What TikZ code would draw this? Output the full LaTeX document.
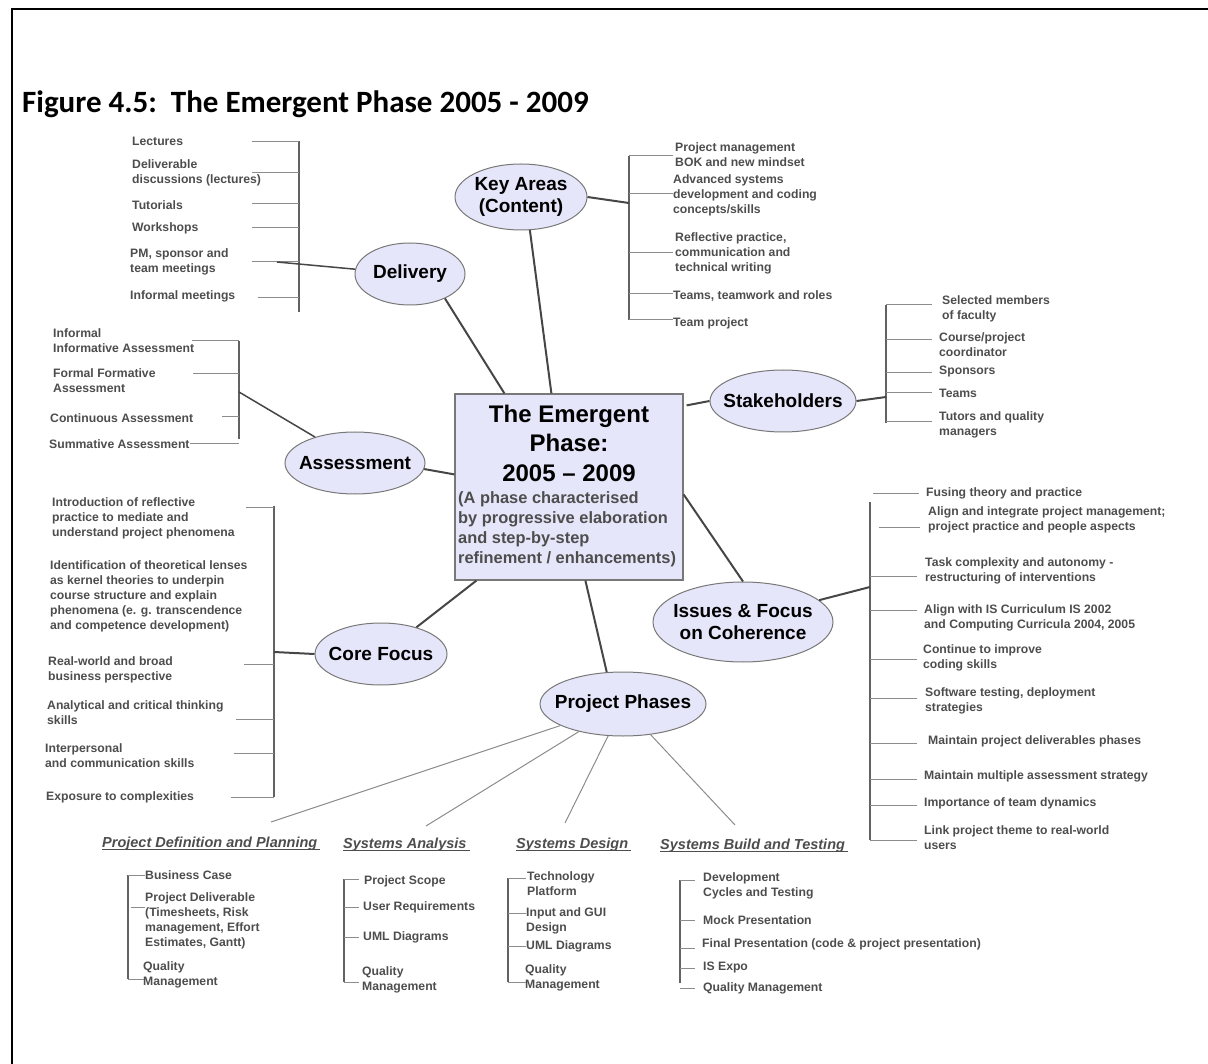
\documentclass[tikz,border=0pt]{standalone}
\usepackage{fontspec}
\setmainfont{Liberation Sans}
\newfontfamily\capfont{Carlito}
\usetikzlibrary{shapes.geometric,calc}

\definecolor{bubblefill}{RGB}{230,230,250}
\definecolor{edgegray}{RGB}{120,120,120}
\definecolor{itemgray}{RGB}{77,77,77}
\definecolor{linegray}{RGB}{70,70,70}
\definecolor{tickgray}{RGB}{140,140,140}

\tikzset{
  bubble/.style={ellipse, draw=edgegray, fill=bubblefill, line width=1pt, inner sep=0pt},
  bubbletext/.style={font=\fontsize{19}{22}\selectfont\bfseries, align=center, inner sep=0pt},
  hubbox/.style={draw=edgegray, fill=bubblefill, line width=1.2pt, inner sep=0pt},
  item/.style={anchor=west, inner sep=0pt, align=left, text=itemgray,
               font=\fontsize{12.2}{15}\selectfont\bfseries},
  heading/.style={anchor=base west, inner sep=0pt, text=itemgray,
               font=\fontsize{14.5}{17}\selectfont\bfseries\itshape},
  conn/.style={draw=linegray, line width=2pt},
  bar/.style={draw=linegray!85, line width=1.5pt},
  tick/.style={draw=tickgray, line width=1pt},
  phaseconn/.style={draw=tickgray, line width=1pt},
}

\begin{document}
\begin{tikzpicture}[x=1pt,y=-1pt]
\useasboundingbox (0,0) rectangle (1208,1064);

% frame and caption
\draw[line width=1.5pt, black] (12,1064) -- (12,9) -- (1208,9);
\node[anchor=west, inner sep=0pt, font=\capfont\fontsize{31}{36}\selectfont\bfseries]
  (caption) at (22,104) {Figure 4.5:\ \ The Emergent Phase 2005 - 2009};

% central hub
\node[hubbox, minimum width=228, minimum height=186] (hub) at (569,487) {};
\node[inner sep=0pt, align=center, font=\fontsize{24}{29.5}\selectfont\bfseries]
  (hubtitle) at (569,443) {The Emergent\\Phase:\\2005 – 2009};
\node[anchor=west, inner sep=0pt, align=left, text=itemgray,
      font=\fontsize{16.4}{20}\selectfont\bfseries]
  (hubnote) at (458,529) {(A phase characterised\\by progressive elaboration\\and step-by-step\\refinement / enhancements)};

% topic bubbles
\node[bubble, minimum width=132, minimum height=66] (keyareas) at (521,197) {};
\node[bubbletext] at (keyareas) {Key Areas\\(Content)};
\node[bubble, minimum width=110, minimum height=62] (delivery) at (410,274) {};
\node[bubbletext] at (delivery) {Delivery};
\node[bubble, minimum width=146, minimum height=62] (stake) at (783,401) {};
\node[bubbletext] at (stake) {Stakeholders};
\node[bubble, minimum width=140, minimum height=62] (assess) at (355,463) {};
\node[bubbletext] at (assess) {Assessment};
\node[bubble, minimum width=180, minimum height=80] (issues) at (743,622) {};
\node[bubbletext] at (issues) {Issues \& Focus\\on Coherence};
\node[bubble, minimum width=132, minimum height=62] (core) at (381,654) {};
\node[bubbletext] at (core) {Core Focus};
\node[bubble, minimum width=166, minimum height=64] (pp) at (623,704) {};
\node[bubbletext] at (pp) {Project Phases};

% hub connectors
\draw[conn] (delivery.-35) -- ($(hub.north west)+(50,0)$);
\draw[conn] (keyareas.-75) -- ($(hub.north west)+(97,0)$);
\draw[conn] ($(hub.north east)+(3,12)$) -- (stake.west);
\draw[conn] (assess.-5) -- ($(hub.north west)+(0,81)$);
\draw[conn] ($(hub.north east)+(0,101)$) -- (issues.north);
\draw[conn] (core.37) -- ($(hub.south west)+(22,0)$);
\draw[conn] ($(hub.south west)+(131,0)$) -- (pp.117);

% Delivery
\node[item] (dLec) at (132,141) {Lectures};
\node[item] (dDis) at (132,173) {Deliverable\\discussions (lectures)};
\node[item] (dTut) at (132,205) {Tutorials};
\node[item] (dWor) at (132,228) {Workshops};
\node[item] (dPM) at (130,261.5) {PM, sponsor and\\team meetings};
\node[item] (dInf) at (130,296) {Informal meetings};
\draw[bar] (299,141) -- (299,312);
\foreach \y in {142,173,204,228,262} \draw[tick] (252,\y) -- (299,\y);
\draw[tick] (258,298) -- (299,298);
\coordinate (dJoin) at (277,262);
\draw[conn, line width=1.5pt] (delivery.175) -- (dJoin);

% Key Areas
\node[item] (kPM) at (675,154.5) {Project management\\BOK and new mindset};
\node[item] (kAdv) at (673,195) {Advanced systems\\development and coding\\concepts/skills};
\node[item] (kRef) at (675,253) {Reflective practice,\\communication and\\technical writing};
\node[item] (kTeams) at (673,296) {Teams, teamwork and roles};
\node[item] (kProj) at (673,323) {Team project};
\draw[bar] (629,156) -- (629,320);
\foreach \y in {156,194,253,294,320} \draw[tick] (629,\y) -- (673,\y);
\coordinate (kJoin) at (629,203);
\draw[conn] (keyareas.east) -- (kJoin);

% Stakeholders
\node[item] (sSel) at (942,308.5) {Selected members\\of faculty};
\node[item] (sCo) at (939,344.5) {Course/project\\coordinator};
\node[item] (sSp) at (939,372) {Sponsors};
\node[item] (sTe) at (939,393) {Teams};
\node[item] (sTu) at (939,424.5) {Tutors and quality\\managers};
\draw[bar] (886,305) -- (886,423);
\foreach \y in {305,340,373,393,422} \draw[tick] (886,\y) -- (932,\y);
\coordinate (sJoin) at (886,397);
\draw[conn] (stake.east) -- (sJoin);

% Assessment
\node[item] (aInf) at (53,340.5) {Informal\\Informative Assessment};
\node[item] (aFor) at (53,380.5) {Formal Formative\\Assessment};
\node[item] (aCon) at (50,418) {Continuous Assessment};
\node[item] (aSum) at (49,444) {Summative Assessment};
\draw[bar] (239,341) -- (239,439);
\draw[tick] (192,341) -- (239,341);
\draw[tick] (193,374) -- (239,374);
\draw[tick] (222,417) -- (239,417);
\draw[tick] (aSum.east) -- (239,444);
\coordinate (aJoin) at (239,392);
\draw[conn, line width=1.5pt] (aJoin) -- (assess.147);

% Core Focus
\node[item] (cIntro) at (52,518) {Introduction of reflective\\practice to mediate and\\understand project phenomena};
\node[item] (cIdent) at (50,596) {Identification of theoretical lenses\\as kernel theories to underpin\\course structure and explain\\phenomena (e. g. transcendence\\and competence development)};
\node[item] (cReal) at (48,669.5) {Real-world and broad\\business perspective};
\node[item] (cAnal) at (47,712.5) {Analytical and critical thinking\\skills};
\node[item] (cInter) at (45,755.5) {Interpersonal\\and communication skills};
\node[item] (cExp) at (46,797) {Exposure to complexities};
\draw[bar] (274,506) -- (274,797);
\draw[tick] (246,507) -- (274,507);
\draw[tick] (244,664) -- (274,664);
\draw[tick] (236,719) -- (274,719);
\draw[tick] (234,753) -- (274,753);
\draw[tick] (231,797) -- (274,797);
\coordinate (cJoin) at (274,652);
\draw[conn] (cJoin) -- (core.west);

% Issues & Focus on Coherence
\node[item] (iFuse) at (926,493) {Fusing theory and practice};
\node[item] (iAlign) at (928,520) {Align and integrate project management;\\project practice and people aspects};
\node[item] (iTask) at (925,570.5) {Task complexity and autonomy -\\restructuring of interventions};
\node[item] (iIS) at (924,617.5) {Align with IS Curriculum IS 2002\\and Computing Curricula 2004, 2005};
\node[item] (iCode) at (923,657.5) {Continue to improve\\coding skills};
\node[item] (iTest) at (925,700.5) {Software testing, deployment\\strategies};
\node[item] (iDeliv) at (928,741) {Maintain project deliverables phases};
\node[item] (iMulti) at (924,776) {Maintain multiple assessment strategy};
\node[item] (iTeam) at (924,803) {Importance of team dynamics};
\node[item] (iLink) at (924,838) {Link project theme to real-world\\users};
\draw[bar] (870,502) -- (870,840);
\draw[tick] (873,493) -- (919,493);
\draw[tick] (879,527) -- (920,527);
\foreach \y in {576,610,659,698,743,779,805,840} \draw[tick] (870,\y) -- (917,\y);
\coordinate (iJoin) at (870,587);
\draw[conn] (issues.16) -- (iJoin);

% Project phases
\node[heading] (hPDP) at (102,847) {Project Definition and Planning};
\node[heading] (hSA) at (343,848) {Systems Analysis};
\node[heading] (hSD) at (516,848) {Systems Design};
\node[heading] (hSBT) at (660,849) {Systems Build and Testing};
\foreach \h in {hPDP,hSA,hSD,hSBT}
  \draw[itemgray, line width=0.8pt] ([yshift=-2.5pt]\h.base west) -- ([xshift=3pt,yshift=-2.5pt]\h.base east);
\coordinate (ePDP) at (271,822);
\coordinate (eSA) at (426,826);
\coordinate (eSD) at (565,823);
\coordinate (eSBT) at (735,825);
\draw[phaseconn] (pp.199) -- (ePDP);
\draw[phaseconn] (pp.212) -- (eSA);
\draw[phaseconn] (pp.245) -- (eSD);
\draw[phaseconn] (pp.312) -- (eSBT);

% Project Definition and Planning
\node[item] (pBC) at (145,875) {Business Case};
\node[item] (pPD) at (145,920.5) {Project Deliverable\\(Timesheets, Risk\\management, Effort\\Estimates, Gantt)};
\node[item] (pQM) at (143,974.5) {Quality\\Management};
\draw[bar] (128,875) -- (128,979);
\draw[tick] (128,875) -- (145,875);
\draw[tick] (131,907) -- (145,907);
\draw[tick] (128,979) -- (144,979);

% Systems Analysis
\node[item] (saPS) at (364,881) {Project Scope};
\node[item] (saUR) at (363,907) {User Requirements};
\node[item] (saUML) at (363,937) {UML Diagrams};
\node[item] (saQM) at (362,979.5) {Quality\\Management};
\draw[bar] (344,879) -- (344,982);
\foreach \y in {879,907,937,982} \draw[tick] (344,\y) -- (359,\y);

% Systems Design
\node[item] (sdTP) at (527,884) {Technology\\Platform};
\node[item] (sdGUI) at (526,920.5) {Input and GUI\\Design};
\node[item] (sdUML) at (526,946) {UML Diagrams};
\node[item] (sdQM) at (525,977.5) {Quality\\Management};
\draw[bar] (508,878) -- (508,982);
\foreach \y in {878,913,946,982} \draw[tick] (508,\y) -- (526,\y);

% Systems Build and Testing
\node[item] (sbDev) at (703,885.5) {Development\\Cycles and Testing};
\node[item] (sbMock) at (703,920) {Mock Presentation};
\node[item] (sbFin) at (702,944) {Final Presentation (code \& project presentation)};
\node[item] (sbExpo) at (703,968) {IS Expo};
\node[item] (sbQM) at (703,988) {Quality Management};
\draw[bar] (680,880) -- (680,983);
\foreach \y in {880,920,948,968,988} \draw[tick] (680,\y) -- (695,\y);

\end{tikzpicture}
\end{document}
